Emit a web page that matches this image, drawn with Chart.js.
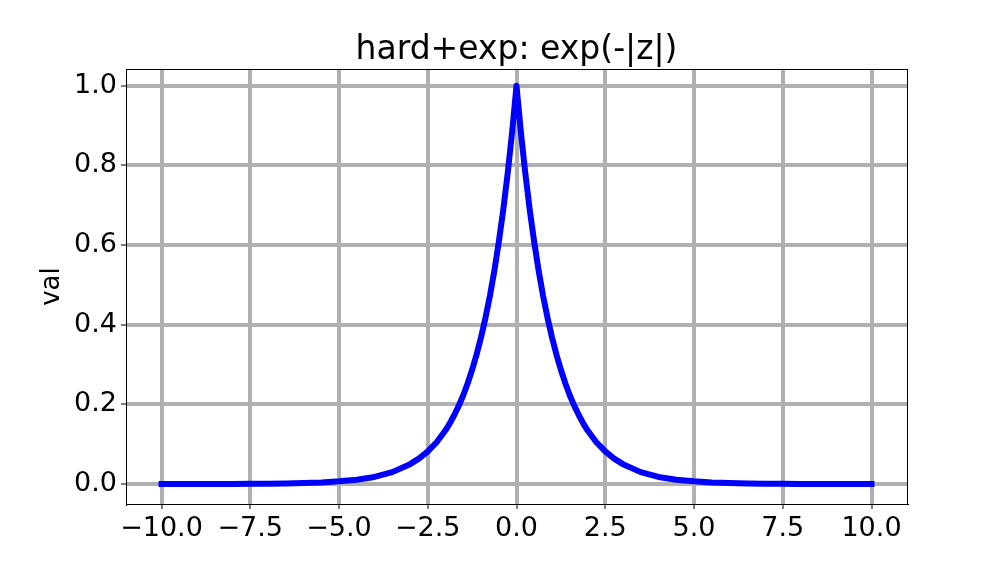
<!DOCTYPE html>
<html>
<head>
<meta charset="utf-8">
<script src="https://cdn.jsdelivr.net/npm/chart.js@4/dist/chart.umd.min.js"></script>
<style>
  body { margin: 0; background: #fff; }
  #chart { display: block; }
</style>
</head>
<body>
<canvas id="chart" width="1008" height="576"></canvas>
<script>
// values
const zVals = [-10, -9.5, -9, -8.5, -8, -7.5, -7, -6.5, -6, -5.5, -5, -4.5, -4, -3.5,
  -3, -2.75, -2.5, -2.25, -2, -1.875, -1.75, -1.625, -1.5, -1.375, -1.25, -1.125, -1,
  -0.875, -0.75, -0.625, -0.5, -0.375, -0.25, -0.125, 0,
  0.125, 0.25, 0.375, 0.5, 0.625, 0.75, 0.875, 1, 1.125, 1.25, 1.375, 1.5, 1.625, 1.75, 1.875, 2,
  2.25, 2.5, 2.75, 3, 3.5, 4, 4.5, 5, 5.5, 6, 6.5, 7, 7.5, 8, 8.5, 9, 9.5, 10]
const valVals = [0.0000, 0.0001, 0.0001, 0.0002, 0.0003, 0.0006, 0.0009, 0.0015, 0.0025, 0.004, 0.007, 0.011, 0.018, 0.030,
  0.050, 0.064, 0.082, 0.105, 0.135, 0.153, 0.174, 0.197, 0.223, 0.253, 0.287, 0.325, 0.368,
  0.417, 0.472, 0.535, 0.607, 0.687, 0.779, 0.882, 1.0,
  0.882, 0.779, 0.687, 0.607, 0.535, 0.472, 0.417, 0.368, 0.325, 0.287, 0.253, 0.223, 0.197, 0.174, 0.153, 0.135,
  0.105, 0.082, 0.064, 0.050, 0.030, 0.018, 0.011, 0.007, 0.004, 0.0025, 0.0015, 0.0009, 0.0006, 0.0003, 0.0002, 0.0001, 0.0001, 0.0000]
const xTicks = [-10, -7.5, -5, -2.5, 0, 2.5, 5, 7.5, 10]
const yTicks = [0, 0.2, 0.4, 0.6, 0.8, 1.0]
const titleText = 'hard+exp: exp(-|z|)'

const fmt = v => v.toFixed(1).replace('-', '\u2212')

const points = zVals.map((z, i) => ({ x: z, y: valVals[i] }))

// frame round the plot like matplotlib spines, and the title centred over the plot
const frame = {
  id: 'frame',
  afterDatasetsDraw(chart) {
    const a = chart.chartArea
    const ctx = chart.ctx
    ctx.save()
    ctx.strokeStyle = '#000'
    ctx.lineWidth = 1
    ctx.strokeRect(Math.round(a.left) + 0.5, Math.round(a.top) + 0.5,
      Math.round(a.right - a.left), Math.round(a.bottom - a.top))
    ctx.fillStyle = '#000'
    ctx.font = '33px "DejaVu Sans", sans-serif'
    ctx.textAlign = 'center'
    ctx.textBaseline = 'alphabetic'
    ctx.fillText(titleText, (a.left + a.right) / 2, 59)
    ctx.restore()
  }
}

Chart.defaults.font.family = '"DejaVu Sans", sans-serif'
Chart.defaults.color = '#000'

new Chart(document.getElementById('chart'), {
  type: 'line',
  data: {
    datasets: [{
      data: points,
      borderColor: '#0000ff',
      borderWidth: 6,
      pointRadius: 0,
      tension: 0,
      borderCapStyle: 'square',
      borderJoinStyle: 'round',
      fill: false
    }]
  },
  options: {
    responsive: false,
    animation: false,
    layout: { padding: { left: 0, right: 101, top: 69, bottom: 0 } },
    plugins: {
      legend: { display: false },
      tooltip: { enabled: false },
      title: { display: false }
    },
    scales: {
      x: {
        type: 'linear',
        min: -11,
        max: 11,
        afterBuildTicks: s => { s.ticks = xTicks.map(v => ({ value: v })) },
        afterFit: s => { s.height = 72 },
        ticks: { font: { size: 27 }, padding: 4, maxRotation: 0, autoSkip: false, callback: v => fmt(v) },
        grid: { color: '#b0b0b0', lineWidth: 4, tickColor: '#000', tickWidth: 1, tickLength: 5 },
        border: { color: '#000', width: 1 }
      },
      y: {
        type: 'linear',
        min: -0.05,
        max: 1.042,
        afterBuildTicks: s => { s.ticks = yTicks.map(v => ({ value: v })) },
        afterFit: s => { s.width = 126 },
        ticks: { font: { size: 27 }, padding: 4, autoSkip: false, callback: v => fmt(v) },
        grid: { color: '#b0b0b0', lineWidth: 4, tickColor: '#000', tickWidth: 1, tickLength: 5 },
        border: { color: '#000', width: 1 },
        title: { display: true, text: 'val', font: { size: 26 }, padding: { top: 37, bottom: 0 } }
      }
    }
  },
  plugins: [frame]
})
</script>
</body>
</html>
